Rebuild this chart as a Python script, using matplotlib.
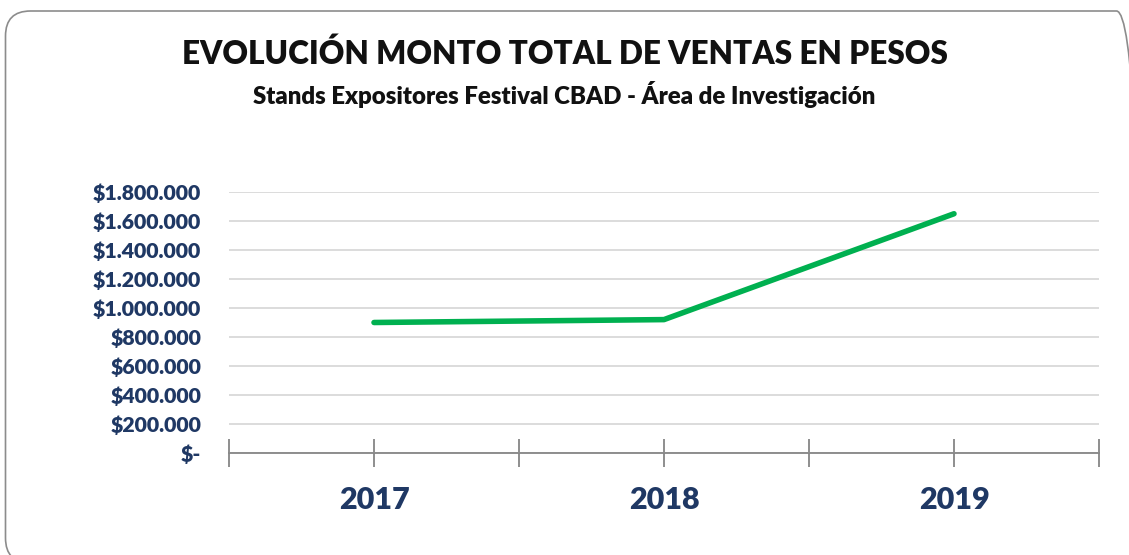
import matplotlib.pyplot as plt
from matplotlib.patches import FancyBboxPatch
from matplotlib.ticker import FuncFormatter, FixedLocator

years = ["2017", "2018", "2019"]
ventas = [900000, 920000, 1650000]
yticks = [0, 200000, 400000, 600000, 800000, 1000000, 1200000, 1400000, 1600000, 1800000]

navy = "#1F3864"
plt.rcParams['font.family'] = ['Lato', 'DejaVu Sans']

fig = plt.figure(figsize=(11.29, 5.55), dpi=100)
W, H = 1129, 555
bw, bh = 1136, 552
border = FancyBboxPatch((5.5/W, (H - 11 - bh)/H), bw/W, bh/H, boxstyle="round,pad=0,rounding_size=%f" % (25/W),
                        transform=fig.transFigure, facecolor="none", edgecolor="#8C8C8C", lw=1.2,
                        mutation_aspect=W/H, zorder=-1)
fig.patches.append(border)

ax = fig.add_axes([229/W, (H-453)/H, 870/W, 261/H])
ax.patch.set_alpha(0)
x = list(range(len(years)))
ax.plot(x, ventas, color="#00B050", lw=4, solid_capstyle="round", zorder=3)
ax.set_xlim(-0.5, 2.5)
ax.set_ylim(0, 1800000)
ax.yaxis.set_major_locator(FixedLocator(yticks))

def fmt(v, pos):
    if v == 0:
        return "$-"
    return "$" + f"{int(v):,}".replace(",", ".")
ax.yaxis.set_major_formatter(FuncFormatter(fmt))
ax.grid(axis="y", color="#D9D9D9", lw=1.3)
ax.set_axisbelow(True)
for s in ["top", "right", "left"]:
    ax.spines[s].set_visible(False)
ax.spines["bottom"].set_color("#868686")
ax.spines["bottom"].set_linewidth(1.3)
ax.tick_params(axis="y", length=0, pad=20, labelsize=15.3, labelcolor=navy)
for lab in ax.get_yticklabels():
    lab.set_fontweight("heavy")
ax.set_xticks([-0.5, 0.5, 1.5, 2.5])
ax.set_xticklabels([])
ax.set_xticks(x, minor=True)
ax.set_xticklabels(years, minor=True, fontsize=22, fontweight="heavy", color=navy)
ax.tick_params(axis="x", which="both", direction="inout", length=20, width=1.3, color="#868686")
ax.tick_params(axis="x", which="minor", pad=14)

fig.text(0.5, (H-54)/H, "EVOLUCIÓN MONTO TOTAL DE VENTAS EN PESOS", ha="center", va="center",
         fontsize=22.7, fontweight="heavy", color="#111111")
fig.text(0.5, (H-95)/H, "Stands Expositores Festival CBAD - Área de Investigación", ha="center", va="center",
         fontsize=17.3, fontweight="heavy", color="#111111")

fig.savefig("out.png", dpi=100)
